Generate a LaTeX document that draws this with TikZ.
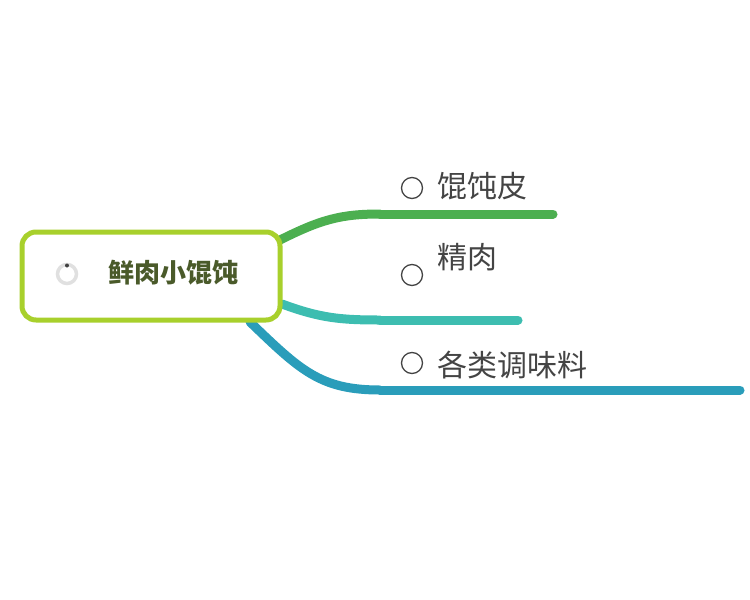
\documentclass[tikz,border=0pt]{standalone}
\usepackage{fontspec}
\newfontfamily\cjk{Noto Sans CJK SC}
\definecolor{rootc}{HTML}{A8D02C}
\definecolor{b1}{HTML}{4CAF50}
\definecolor{b2}{HTML}{3DBDB0}
\definecolor{b3}{HTML}{2A9DBA}
\definecolor{txt}{HTML}{444444}
\definecolor{roottxt}{HTML}{4A5A2A}
\begin{document}
\begin{tikzpicture}[x=1pt,y=-1pt,
  branch/.style={line width=9pt,line cap=round},
  lbl/.style={font=\cjk\fontsize{30}{30}\selectfont,text=txt,anchor=west,inner sep=0pt},
  ringc/.style={draw=txt,line width=1.3pt,circle,minimum size=21pt,inner sep=0pt}]
\useasboundingbox (0,0) rectangle (750,600);
\draw[branch,b1] (280,240) .. controls (320,220) and (340,214) .. (380,214) coordinate (e1a);
\coordinate (e1) at (553,214);
\draw[branch,b1] (e1a) -- (e1);
\draw[branch,b2] (282,304) .. controls (320,318) and (340,320) .. (380,320) coordinate (e2a);
\coordinate (e2) at (518,320);
\draw[branch,b2] (e2a) -- (e2);
\draw[branch,b3] (250,322) .. controls (300,370) and (320,390) .. (380,390) coordinate (e3a);
\coordinate (e3) at (740,390);
\draw[branch,b3] (e3a) -- (e3);
\node[draw=rootc,line width=5pt,fill=white,rounded corners=14pt,minimum width=258pt,minimum height=88pt] (root) at (151,276) {};
\node[font=\cjk\bfseries\fontsize{26}{26}\selectfont,text=roottxt] (rt) at (173,273) {鲜肉小馄饨};
\node[draw=black!12,line width=3.5pt,circle,minimum size=19pt,inner sep=0pt] (icon) at (67,274) {};
\fill[black!75] (67,265.5) circle (2pt);
\node[ringc] (c1) at (412,188) {};
\node[lbl] (t1) at (437,186) {馄饨皮};
\node[ringc] (c2) at (412,275) {};
\node[lbl] (t2) at (437,257) {精肉};
\node[ringc] (c3) at (412,363) {};
\node[lbl] (t3) at (437,365) {各类调味料};
\end{tikzpicture}
\end{document}
